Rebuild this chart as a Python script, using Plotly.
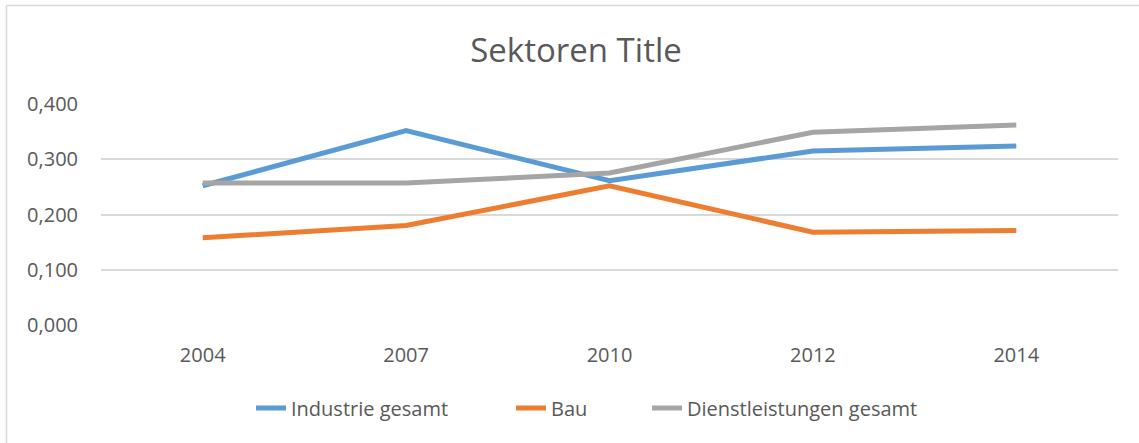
import plotly.graph_objects as go

# Survey years and sector values
years = ["2004", "2007", "2010", "2012", "2014"]
industrie = [0.252, 0.352, 0.261, 0.315, 0.324]
bau = [0.158, 0.180, 0.252, 0.168, 0.171]
dienstleistungen = [0.257, 0.257, 0.275, 0.349, 0.362]

y_ticks = [0.0, 0.1, 0.2, 0.3, 0.4]
y_tick_text = ["0,000", "0,100", "0,200", "0,300", "0,400"]

series = [
    ("Industrie gesamt", industrie, "#5B9BD5"),
    ("Bau", bau, "#ED7D31"),
    ("Dienstleistungen gesamt", dienstleistungen, "#A5A5A5"),
]

W, H = 1139, 443
M_L, M_R, M_T, M_B = 101, 21, 104, 118
TEXT = "#595959"
FONT = "Open Sans"
pw, ph = W - M_L - M_R, H - M_T - M_B

# left pixel where each legend entry begins
legend_left = [251, 511, 647]
legend_ids = ["legend", "legend2", "legend3"]

fig = go.Figure()
for (name, vals, color), lid in zip(series, legend_ids):
    fig.add_trace(go.Scatter(
        x=years, y=vals, name=name, mode="lines",
        line=dict(color=color, width=5), legend=lid,
    ))

# chart-area frame (only top and left edges are within the page)
fx0 = (6.5 - M_L) / pw
fy_top = (H - 5.5 - M_B) / ph
fig.add_shape(type="line", xref="paper", yref="paper",
              x0=fx0, x1=(W + 5 - M_L) / pw, y0=fy_top, y1=fy_top,
              line=dict(color="#D9D9D9", width=1.5))
fig.add_shape(type="line", xref="paper", yref="paper",
              x0=fx0, x1=fx0, y0=fy_top, y1=(-5 - M_B) / ph,
              line=dict(color="#D9D9D9", width=1.5))

legend_y = (H - 408 - M_B) / ph
legend_style = dict(orientation="h", xanchor="left", y=legend_y, yanchor="middle",
                    font=dict(family=FONT, size=20, color=TEXT),
                    bgcolor="rgba(0,0,0,0)", borderwidth=0)

fig.update_layout(
    width=W, height=H,
    margin=dict(l=M_L, r=M_R, t=M_T, b=M_B, autoexpand=False),
    paper_bgcolor="white", plot_bgcolor="white",
    title=dict(text="Sektoren Title", xref="paper", x=(576 - M_L) / pw,
               xanchor="center", y=1 - 50 / H, yanchor="middle",
               font=dict(family=FONT, size=33, color=TEXT)),
    font=dict(family=FONT, color=TEXT),
    xaxis=dict(type="category", range=[-0.5, len(years) - 0.5],
               showgrid=False, showline=False, zeroline=False,
               ticks="", tickfont=dict(size=20, color=TEXT), ticklabelstandoff=16),
    yaxis=dict(range=[0, 0.4], tickvals=y_ticks, ticktext=y_tick_text,
               showgrid=True, gridcolor="#D9D9D9", gridwidth=1.5,
               zeroline=False, showline=False, ticks="",
               tickfont=dict(size=20, color=TEXT), ticklabelstandoff=22),
    showlegend=True,
)
for lid, left in zip(legend_ids, legend_left):
    fig.update_layout({lid: dict(legend_style, x=(left - M_L) / pw)})

fig.write_html("out.html")
